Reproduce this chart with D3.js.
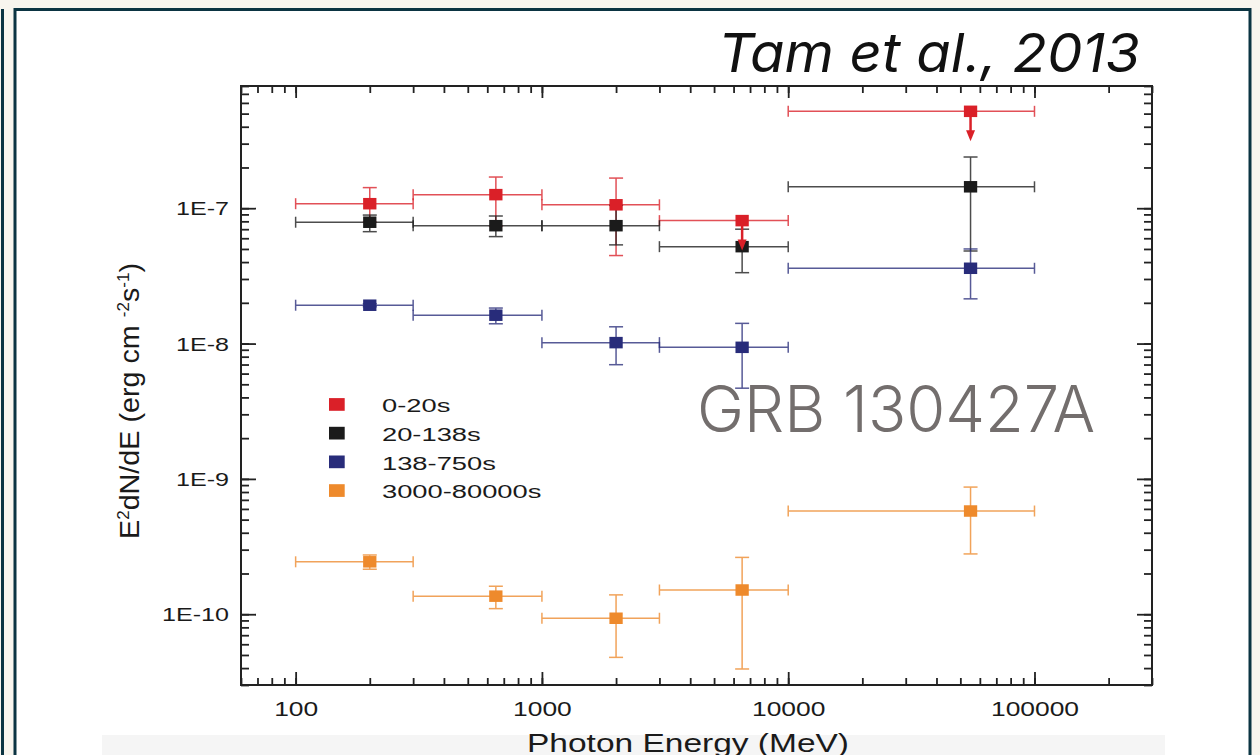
<!DOCTYPE html>
<html>
<head>
<meta charset="utf-8">
<script src="https://cdn.jsdelivr.net/npm/d3@7"></script>
<style>
  body { margin: 0; background: #f8f5ee; }
  svg { display: block; font-family: "Liberation Sans", Arial, sans-serif; }
</style>
</head>
<body>
<svg id="chart" width="1260" height="755"></svg>
<script>
// energy bins (MeV)
var energyCenter = [200, 650, 2000, 6500, 55000];
var energyLow = [100, 300, 1000, 3000, 10000];
var energyHigh = [300, 1000, 3000, 10000, 100000];

var seriesNames = ["0-20s", "20-138s", "138-750s", "3000-80000s"];

// E^2 dN/dE values (erg cm-2 s-1)
var flux0to20 = [1.08e-7, 1.26e-7, 1.06e-7, 8.1e-8, 5.2e-7];
var flux0to20Low = [7.9e-8, 7.4e-8, 4.47e-8, null, null];
var flux0to20High = [1.42e-7, 1.70e-7, 1.67e-7, null, null];
var upperLimit0to20 = [false, false, false, true, true];

var flux20to138 = [7.88e-8, 7.43e-8, 7.43e-8, 5.2e-8, 1.44e-7];
var flux20to138Low = [6.71e-8, 6.17e-8, 5.36e-8, 3.34e-8, 4.83e-8];
var flux20to138High = [8.9e-8, 8.76e-8, 1.05e-7, 7.0e-8, 2.39e-7];

var flux138to750 = [1.92e-8, 1.62e-8, 1.016e-8, 9.38e-9, 3.6e-8];
var flux138to750Low = [1.87e-8, 1.40e-8, 6.98e-9, 4.68e-9, 2.14e-8];
var flux138to750High = [1.97e-8, 1.83e-8, 1.33e-8, 1.41e-8, 5.0e-8];

var flux3000to80000 = [2.44e-10, 1.36e-10, 9.34e-11, 1.51e-10, 5.79e-10];
var flux3000to80000Low = [2.15e-10, 1.10e-10, 4.8e-11, 3.94e-11, 2.79e-10];
var flux3000to80000High = [2.74e-10, 1.61e-10, 1.39e-10, 2.63e-10, 8.7e-10];

var xTickValues = [100, 1000, 10000, 100000];
var xTickLabels = ["100", "1000", "10000", "100000"];
var yTickValues = [1e-7, 1e-8, 1e-9, 1e-10];
var yTickLabels = ["1E-7", "1E-8", "1E-9", "1E-10"];

var colors = ["#da2028", "#1b1b1b", "#282c7a", "#ee8a2c"];

// build series table
var series = [
  {name: seriesNames[0], color: colors[0], v: flux0to20, lo: flux0to20Low, hi: flux0to20High, lim: upperLimit0to20},
  {name: seriesNames[1], color: colors[1], v: flux20to138, lo: flux20to138Low, hi: flux20to138High},
  {name: seriesNames[2], color: colors[2], v: flux138to750, lo: flux138to750Low, hi: flux138to750High},
  {name: seriesNames[3], color: colors[3], v: flux3000to80000, lo: flux3000to80000Low, hi: flux3000to80000High}
];
var points = [];
series.forEach(function(s, si) {
  s.v.forEach(function(val, i) {
    points.push({s: si, color: s.color, e: energyCenter[i], eLo: energyLow[i], eHi: energyHigh[i],
      v: val, lo: s.lo[i], hi: s.hi[i], lim: s.lim ? s.lim[i] : false});
  });
});

var svg = d3.select("#chart");

// panel background + frame
svg.append("rect").attr("x", 1).attr("y", 9).attr("width", 3).attr("height", 760).attr("fill", "#0b3442");
svg.append("rect").attr("x", 15).attr("y", 9.5).attr("width", 1235).attr("height", 760)
  .attr("fill", "#ffffff").attr("stroke", "#0b3442").attr("stroke-width", 3);
svg.append("rect").attr("x", 102).attr("y", 735).attr("width", 1063).attr("height", 25).attr("fill", "#f5f5f5");

var plotLeft = 241, plotRight = 1152, plotTop = 86, plotBottom = 685;

var x = d3.scaleLog().domain([60, 300000]).range([plotLeft, plotRight]);
var y = d3.scaleLog().domain([3e-11, 8e-7]).range([plotBottom, plotTop]);

function stretch(sel, f) {
  sel.each(function() {
    var w = this.getComputedTextLength();
    d3.select(this).attr("textLength", w * f).attr("lengthAdjust", "spacingAndGlyphs");
  });
}

function styleAxis(g) {
  g.select(".domain").remove();
  g.selectAll("line").attr("stroke", "#222").attr("stroke-width", 1.8);
}

var tickFont = 19;

// bottom
svg.append("g").attr("transform", "translate(0," + plotBottom + ")")
  .call(d3.axisBottom(x).tickValues(x.ticks()).tickSize(-7).tickFormat(""))
  .call(styleAxis);
var xb = svg.append("g").attr("transform", "translate(0," + plotBottom + ")")
  .call(d3.axisBottom(x).tickValues(xTickValues).tickSize(-13).tickPadding(17)
    .tickFormat(function(d, i) { return xTickLabels[i]; }))
  .call(styleAxis);
xb.selectAll("text").attr("font-size", 20).attr("fill", "#1a1a1a").attr("font-family", "Liberation Sans, Arial");
stretch(xb.selectAll("text"), 1.32);

// top
svg.append("g").attr("transform", "translate(0," + plotTop + ")")
  .call(d3.axisTop(x).tickValues(x.ticks()).tickSize(-7).tickFormat(""))
  .call(styleAxis);
svg.append("g").attr("transform", "translate(0," + plotTop + ")")
  .call(d3.axisTop(x).tickValues(xTickValues).tickSize(-12).tickFormat(""))
  .call(styleAxis);

// left
svg.append("g").attr("transform", "translate(" + plotLeft + ",0)")
  .call(d3.axisLeft(y).tickValues(y.ticks()).tickSize(-8).tickFormat(""))
  .call(styleAxis);
var yl = svg.append("g").attr("transform", "translate(" + plotLeft + ",0)")
  .call(d3.axisLeft(y).tickValues(yTickValues).tickSize(-15).tickPadding(12)
    .tickFormat(function(d, i) { return yTickLabels[i]; }))
  .call(styleAxis);
yl.selectAll("text").attr("font-size", tickFont).attr("fill", "#1a1a1a").attr("dy", "0.35em")
  .attr("font-family", "Liberation Sans, Arial");
stretch(yl.selectAll("text"), 1.32);

// right
svg.append("g").attr("transform", "translate(" + plotRight + ",0)")
  .call(d3.axisRight(y).tickValues(y.ticks()).tickSize(-8).tickFormat(""))
  .call(styleAxis);
svg.append("g").attr("transform", "translate(" + plotRight + ",0)")
  .call(d3.axisRight(y).tickValues(yTickValues).tickSize(-15).tickFormat(""))
  .call(styleAxis);

// frame
svg.append("rect").attr("x", plotLeft).attr("y", plotTop)
  .attr("width", plotRight - plotLeft).attr("height", plotBottom - plotTop)
  .attr("fill", "none").attr("stroke", "#222").attr("stroke-width", 2);

// error bars
var capH = 11, capW = 14;
var bars = svg.append("g").attr("class", "errorbars");
points.forEach(function(p) {
  var g = bars.append("g").attr("stroke", p.color).attr("stroke-width", 1.5).attr("opacity", 0.78);
  var py = y(p.v);
  g.append("line").attr("x1", x(p.eLo)).attr("x2", x(p.eHi)).attr("y1", py).attr("y2", py);
  g.append("line").attr("x1", x(p.eLo)).attr("x2", x(p.eLo)).attr("y1", py - capH / 2).attr("y2", py + capH / 2);
  g.append("line").attr("x1", x(p.eHi)).attr("x2", x(p.eHi)).attr("y1", py - capH / 2).attr("y2", py + capH / 2);
  if (!p.lim && p.lo != null) {
    var px = x(p.e);
    g.append("line").attr("x1", px).attr("x2", px).attr("y1", y(p.lo)).attr("y2", y(p.hi));
    g.append("line").attr("x1", px - capW / 2).attr("x2", px + capW / 2).attr("y1", y(p.lo)).attr("y2", y(p.lo));
    g.append("line").attr("x1", px - capW / 2).attr("x2", px + capW / 2).attr("y1", y(p.hi)).attr("y2", y(p.hi));
  }
});

// markers
var mw = 13.3, mh = 11.5;
svg.append("g").selectAll("rect").data(points).enter().append("rect")
  .attr("x", function(d) { return x(d.e) - mw / 2; })
  .attr("y", function(d) { return y(d.v) - mh / 2; })
  .attr("width", mw).attr("height", mh)
  .attr("fill", function(d) { return d.color; });

// upper-limit arrows
var arrows = svg.append("g");
points.filter(function(d) { return d.lim; }).forEach(function(p) {
  var px = x(p.e), py = y(p.v);
  arrows.append("line").attr("x1", px).attr("x2", px).attr("y1", py).attr("y2", py + 22)
    .attr("stroke", p.color).attr("stroke-width", 2.5);
  arrows.append("path")
    .attr("d", "M" + (px - 4.5) + "," + (py + 19) + "L" + (px + 4.5) + "," + (py + 19) + "L" + px + "," + (py + 30) + "Z")
    .attr("fill", p.color);
});

// legend
var legend = svg.append("g").selectAll("g").data(series).enter().append("g")
  .attr("transform", function(d, i) { return "translate(329," + (404.5 + i * 28.7) + ")"; });
legend.append("rect").attr("x", 0).attr("y", -6.4).attr("width", 15.7).attr("height", 12.7)
  .attr("fill", function(d) { return d.color; });
var legText = legend.append("text").attr("x", 53).attr("y", 7.8)
  .attr("font-size", 17.5).attr("fill", "#1a1a1a")
  .text(function(d) { return d.name; });
stretch(legText, 1.56);

// axis titles
svg.append("text").attr("x", 688).attr("y", 752).attr("text-anchor", "middle")
  .attr("font-size", 26).attr("fill", "#1a1a1a")
  .attr("textLength", 322).attr("lengthAdjust", "spacingAndGlyphs")
  .text("Photon Energy (MeV)");

var yt = svg.append("text").attr("transform", "translate(139,401) rotate(-90)")
  .attr("text-anchor", "middle").attr("font-size", 27).attr("fill", "#1a1a1a")
  .attr("textLength", 276).attr("lengthAdjust", "spacingAndGlyphs");
yt.append("tspan").text("E");
yt.append("tspan").attr("font-size", 16).attr("baseline-shift", "10").text("2");
yt.append("tspan").text("dN/dE (erg cm ");
yt.append("tspan").attr("font-size", 16).attr("baseline-shift", "10").text("-2");
yt.append("tspan").text("s");
yt.append("tspan").attr("font-size", 16).attr("baseline-shift", "10").text("-1");
yt.append("tspan").text(")");

// annotations
svg.append("text").attr("x", 718).attr("y", 72)
  .attr("font-family", "Inter, 'Open Sans', sans-serif").attr("font-style", "italic")
  .attr("font-size", 54).attr("fill", "#111")
  .attr("textLength", 422).attr("lengthAdjust", "spacingAndGlyphs")
  .text("Tam et al., 2013");

svg.append("text").attr("x", 697).attr("y", 432)
  .attr("font-family", "Inter, Roboto, sans-serif").attr("font-weight", 300)
  .attr("font-size", 64).attr("fill", "#736e6d")
  .attr("textLength", 398).attr("lengthAdjust", "spacingAndGlyphs")
  .text("GRB 130427A");
</script>
</body>
</html>
